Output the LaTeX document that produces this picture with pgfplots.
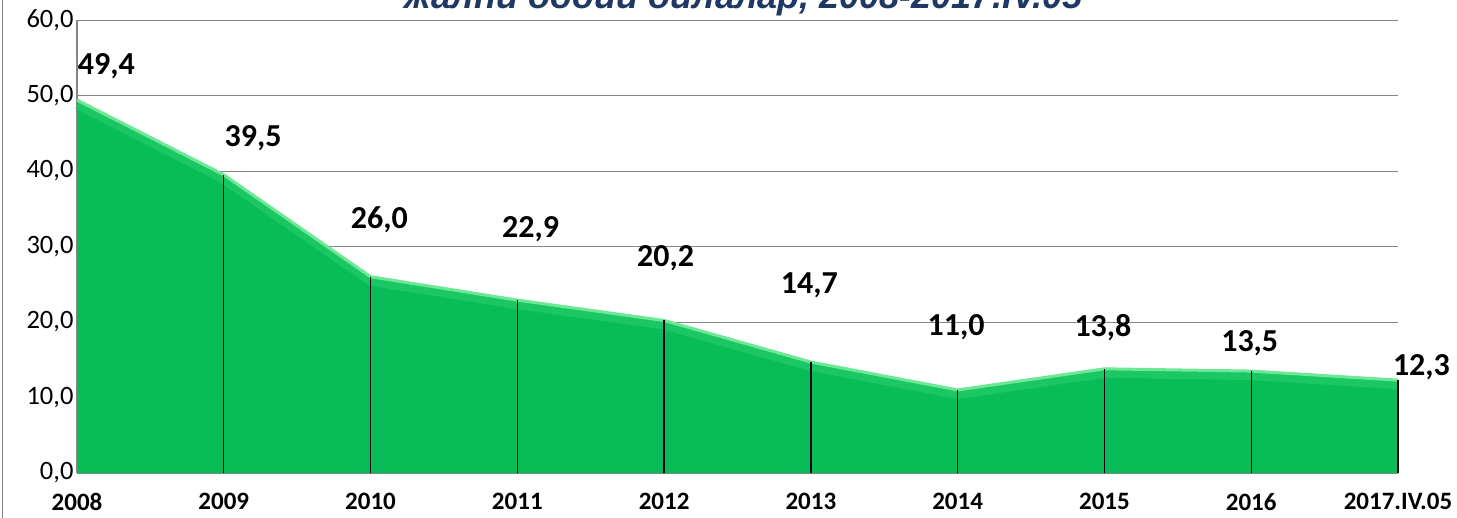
\documentclass[border=0pt]{standalone}
\usepackage{pgfplots}
\pgfplotsset{compat=1.18}
\usepackage{fontspec}
\setmainfont{Carlito}
\newfontfamily\titlefont{Liberation Sans}
\definecolor{areagreen}{RGB}{8,189,88}
\definecolor{edgegreen}{RGB}{110,232,150}
\definecolor{bandgreen}{RGB}{40,205,110}
\definecolor{titleblue}{RGB}{31,56,100}
\definecolor{gridgray}{RGB}{134,134,134}
\begin{document}
\begin{tikzpicture}[x=1pt,y=1pt]
\useasboundingbox (0,0) rectangle (1457,-518);
\node[anchor=base east, inner sep=0pt, font=\titlefont\fontsize{36}{36}\selectfont\bfseries\itshape, text=titleblue] at (1083,-9) {жалпи оддий оилалар, 2008-2017.IV.05};
\draw[gridgray, line width=1.2pt] (2.5,0) -- (2.5,-518);
\begin{axis}[
  at={(77pt,-473pt)}, anchor=south west,
  width=1321pt, height=453pt, scale only axis,
  xmin=0, xmax=9, ymin=0, ymax=60,
  xtick={0,...,9},
  xticklabels={2008,2009,2010,2011,2012,2013,2014,2015,2016,2017.IV.05},
  ytick={0,10,...,60},
  axis x line*=bottom, axis y line*=left,
  axis line style={gridgray, line width=1.2pt},
  ymajorgrids, grid style={gridgray, line width=1pt},
  major tick length=0pt,
  clip=false,
  yticklabel style={font=\fontsize{26.5}{26.5}\selectfont, xshift=0pt,
    /pgf/number format/.cd, use comma, fixed, fixed zerofill, precision=1, assume math mode=true},
  xticklabel style={font=\fontsize{25}{25}\selectfont\bfseries, yshift=-17pt},
]
\addplot[fill=areagreen, draw=none] coordinates {
 (0,49.4) (1,39.5) (2,26.0) (3,22.9) (4,20.2) (5,14.7) (6,11.0) (7,13.8) (8,13.5) (9,12.3)} \closedcycle;
\addplot[bandgreen, line width=8pt, opacity=0.6, yshift=-5pt] coordinates {
 (0,49.4) (1,39.5) (2,26.0) (3,22.9) (4,20.2) (5,14.7) (6,11.0) (7,13.8) (8,13.5) (9,12.3)};
\addplot[edgegreen, line width=3pt] coordinates {
 (0,49.4) (1,39.5) (2,26.0) (3,22.9) (4,20.2) (5,14.7) (6,11.0) (7,13.8) (8,13.5) (9,12.3)};
\addplot[ycomb, black, line width=1.3pt, mark=none] coordinates {
 (1,39.5) (2,26.0) (3,22.9) (4,20.2) (5,14.7) (6,11.0) (7,13.8) (8,13.5) (9,12.3)};
\addplot[draw=none, mark=none, nodes near coords, point meta=explicit symbolic,
  nodes near coords style={anchor=center, font=\fontsize{32}{32}\selectfont\bfseries}]
  table[meta=label] {
x y label
0.20 53.9 {49,4}
1.20 44.4 {39,5}
2.06 33.6 {26,0}
3.09 32.3 {22,9}
4.01 28.5 {20,2}
4.99 24.9 {14,7}
5.99 19.3 {11,0}
6.99 19.3 {13,8}
7.99 17.2 {13,5}
9.16 14.0 {12,3}
};
\end{axis}
\end{tikzpicture}
\end{document}
